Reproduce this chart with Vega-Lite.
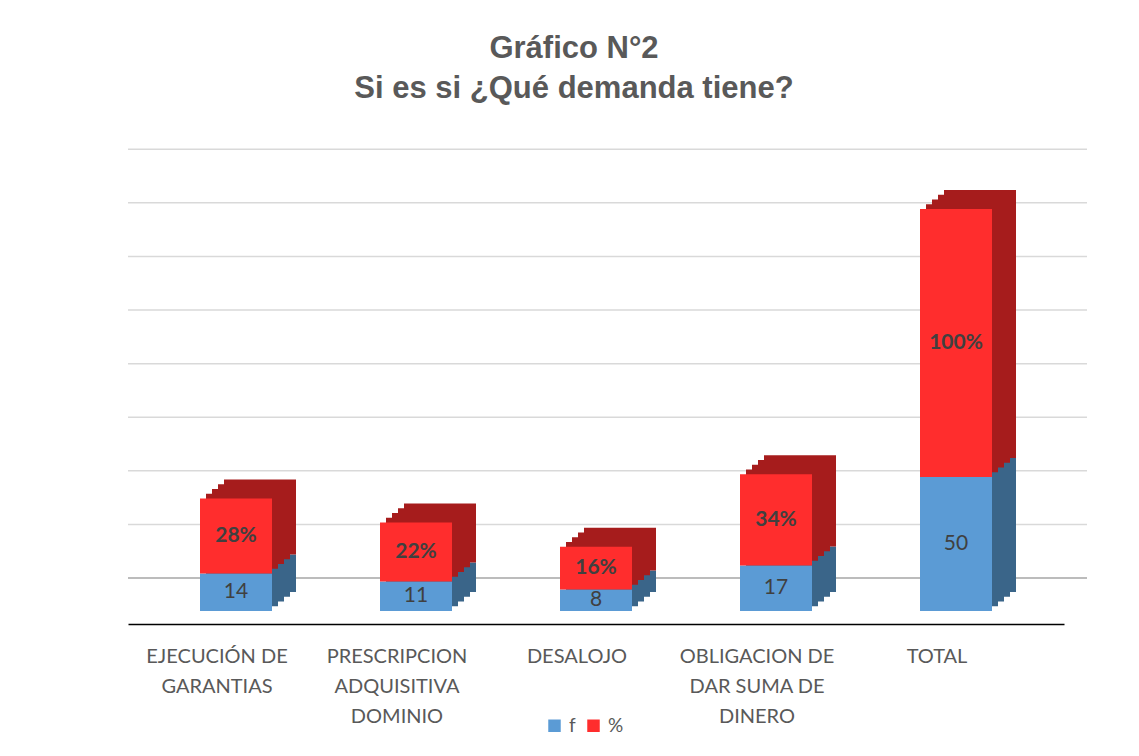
{
  "$schema": "https://vega.github.io/schema/vega-lite/v6.json",
  "width": 936,
  "height": 469,
  "autosize": {"type": "none"},
  "padding": {"left": 128, "top": 142, "right": 75, "bottom": 145},
  "background": "white",
  "config": {"view": {"stroke": null}, "font": "Lato"},
  "title": {
    "text": ["Gráfico N°2", "Si es si ¿Qué demanda tiene?"],
    "font": "Liberation Sans",
    "fontSize": 31,
    "fontWeight": "bold",
    "color": "#595959",
    "lineHeight": 40,
    "anchor": "middle",
    "offset": 37,
    "dx": -22
  },
  "datasets": {
    "main": [
      {"cat": "EJECUCIÓN DE\nGARANTIAS", "serie": "f", "val": 14, "txt": "14"},
      {"cat": "EJECUCIÓN DE\nGARANTIAS", "serie": "%", "val": 28, "txt": "28%"},
      {"cat": "PRESCRIPCION\nADQUISITIVA\nDOMINIO", "serie": "f", "val": 11, "txt": "11"},
      {"cat": "PRESCRIPCION\nADQUISITIVA\nDOMINIO", "serie": "%", "val": 22, "txt": "22%"},
      {"cat": "DESALOJO", "serie": "f", "val": 8, "txt": "8"},
      {"cat": "DESALOJO", "serie": "%", "val": 16, "txt": "16%"},
      {"cat": "OBLIGACION DE\nDAR SUMA DE\nDINERO", "serie": "f", "val": 17, "txt": "17"},
      {"cat": "OBLIGACION DE\nDAR SUMA DE\nDINERO", "serie": "%", "val": 34, "txt": "34%"},
      {"cat": "TOTAL", "serie": "f", "val": 50, "txt": "50"},
      {"cat": "TOTAL", "serie": "%", "val": 100, "txt": "100%"}
    ],
    "grid": [
      {"v": 0}, {"v": 20}, {"v": 40}, {"v": 60}, {"v": 80},
      {"v": 100}, {"v": 120}, {"v": 140}, {"v": 160}
    ]
  },
  "layer": [
    {
      "data": {"name": "grid"},
      "mark": {"type": "rule", "strokeWidth": 1.5, "xOffset": 23, "x2Offset": 60},
      "encoding": {
        "y": {"field": "v", "type": "quantitative", "scale": {"domain": [-12.3, 162.7]}, "axis": null},
        "color": {"condition": {"test": "datum.v === 0", "value": "#a6a6a6"}, "value": "#d9d9d9"}
      }
    },
    {
      "data": {"name": "main"},
      "encoding": {
        "x": {
          "field": "cat",
          "type": "nominal",
          "sort": null,
          "scale": {"paddingInner": 0.6, "paddingOuter": 0.4},
          "axis": {
            "title": null,
            "orient": "bottom",
            "offset": 13,
            "domainColor": "#000000",
            "domainWidth": 1.5,
            "ticks": false,
            "grid": false,
            "labelAngle": 0,
            "labelFont": "Lato",
            "labelFontSize": 20,
            "labelColor": "#595959",
            "labelPadding": 22,
            "labelLineHeight": 30,
            "labelOffset": -19,
            "labelLimit": 0,
            "labelExpr": "split(datum.value, '\\n')"
          }
        },
        "y": {"field": "val", "type": "quantitative", "stack": "zero", "scale": {"domain": [0, 175]}, "axis": null},
        "order": {"field": "serie", "sort": "descending"},
        "detail": {"field": "serie"}
      },
      "layer": [
        {
          "mark": {"type": "bar", "xOffset": 24, "x2Offset": 24, "yOffset": -19, "y2Offset": -19},
          "encoding": {
            "fill": {"condition": {"test": "datum.serie === 'f'", "value": "#3a6589"}, "value": "#a61c1c"}
          }
        },
        {
          "mark": {"type": "bar", "xOffset": 18, "x2Offset": 18, "yOffset": -14.25, "y2Offset": -14.25},
          "encoding": {
            "fill": {"condition": {"test": "datum.serie === 'f'", "value": "#3a6589"}, "value": "#a61c1c"}
          }
        },
        {
          "mark": {"type": "bar", "xOffset": 12, "x2Offset": 12, "yOffset": -9.5, "y2Offset": -9.5},
          "encoding": {
            "fill": {"condition": {"test": "datum.serie === 'f'", "value": "#3a6589"}, "value": "#a61c1c"}
          }
        },
        {
          "mark": {"type": "bar", "xOffset": 6, "x2Offset": 6, "yOffset": -4.75, "y2Offset": -4.75},
          "encoding": {
            "fill": {"condition": {"test": "datum.serie === 'f'", "value": "#3a6589"}, "value": "#a61c1c"}
          }
        },
        {
          "mark": {"type": "bar"},
          "encoding": {
            "color": {
              "field": "serie",
              "type": "nominal",
              "scale": {"domain": ["f", "%"], "range": ["#5b9bd5", "#ff2d2d"]},
              "legend": {
                "title": null,
                "orient": "none",
                "legendX": 417,
                "legendY": 574,
                "direction": "horizontal",
                "symbolType": "square",
                "symbolSize": 156,
                "symbolStrokeWidth": 0,
                "labelFont": "Lato",
                "labelFontSize": 19,
                "labelColor": "#595959",
                "columnPadding": 8,
                "labelOffset": 5
              }
            }
          }
        },
        {
          "mark": {"type": "text", "font": "Lato", "fontSize": 21, "color": "#404040", "fontWeight": "normal"},
          "encoding": {
            "y": {"field": "val", "type": "quantitative", "stack": "zero", "bandPosition": 0.5, "scale": {"domain": [0, 175]}, "axis": null},
            "text": {"condition": {"test": "datum.serie === 'f'", "field": "txt"}, "value": ""}
          }
        },
        {
          "mark": {"type": "text", "font": "Lato", "fontSize": 21, "color": "#404040", "fontWeight": "bold"},
          "encoding": {
            "y": {"field": "val", "type": "quantitative", "stack": "zero", "bandPosition": 0.5, "scale": {"domain": [0, 175]}, "axis": null},
            "text": {"condition": {"test": "datum.serie === '%'", "field": "txt"}, "value": ""}
          }
        }
      ]
    }
  ],
  "resolve": {"scale": {"y": "independent"}}
}
